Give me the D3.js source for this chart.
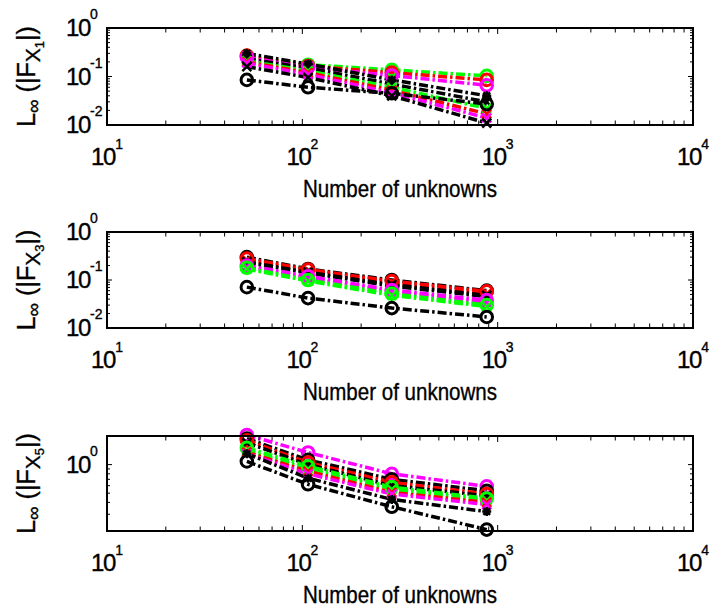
<!DOCTYPE html>
<html>
<head>
<meta charset="utf-8">
<script src="https://cdn.jsdelivr.net/npm/d3@7"></script>
<style>
  body { margin: 0; background: #fff; }
  svg { display: block; }
  text { font-family: "Liberation Sans", Arial, Helvetica, sans-serif; fill: #000; stroke: #000; stroke-width: 0.35px; }
</style>
</head>
<body>
<svg id="chart" width="710" height="612"></svg>
<script>
// Mesh sizes (number of unknowns) shared by every curve
const unknowns = [52, 107, 287, 879];
const xDecades = [1, 2, 3, 4];
const xLabel = "Number of unknowns";

// Colour keys and marker keys, one per curve, per panel
const colorMap = { g: "#00ff00", r: "#ff0000", m: "#ff00ff", k: "#000000" };

// Panel 1: L-infinity error of F_{X_1}
const fx1Colors  = ["g", "r", "m", "k", "k", "g", "r", "m", "k", "k"];
const fx1Markers = ["o", "o", "o", "*", "x", "x", "x", "x", "x", "o"];
const fx1Values = [
  [0.26, 0.175, 0.137, 0.103],
  [0.27, 0.165, 0.120, 0.085],
  [0.25, 0.155, 0.105, 0.066],
  [0.30, 0.180, 0.085, 0.040],
  [0.23, 0.150, 0.070, 0.030],
  [0.21, 0.130, 0.060, 0.022],
  [0.20, 0.120, 0.052, 0.017],
  [0.19, 0.110, 0.046, 0.014],
  [0.16, 0.095, 0.040, 0.011],
  [0.085, 0.060, 0.045, 0.027]
];
const fx1Domain = [0.01, 1];

// Panel 2: L-infinity error of F_{X_3}
const fx3Colors  = ["k", "r", "r", "k", "k", "m", "m", "g", "g", "k"];
const fx3Markers = ["o", "o", "x", "x", "*", "o", "x", "o", "x", "o"];
const fx3Values = [
  [0.30, 0.170, 0.100, 0.060],
  [0.28, 0.165, 0.095, 0.058],
  [0.26, 0.155, 0.088, 0.052],
  [0.24, 0.145, 0.080, 0.048],
  [0.23, 0.140, 0.075, 0.045],
  [0.20, 0.120, 0.062, 0.038],
  [0.19, 0.110, 0.058, 0.034],
  [0.18, 0.100, 0.052, 0.030],
  [0.17, 0.095, 0.048, 0.028],
  [0.071, 0.042, 0.026, 0.017]
];
const fx3Domain = [0.01, 1];

// Panel 3: L-infinity error of F_{X_5}
const fx5Colors  = ["m", "k", "r", "k", "g", "g", "r", "m", "k", "k"];
const fx5Markers = ["o", "o", "o", "x", "o", "x", "x", "x", "*", "o"];
const fx5Values = [
  [2.05, 1.34, 0.80, 0.59],
  [1.88, 1.12, 0.70, 0.53],
  [1.80, 1.05, 0.65, 0.49],
  [1.70, 1.00, 0.60, 0.47],
  [1.50, 0.96, 0.58, 0.44],
  [1.40, 0.90, 0.55, 0.42],
  [1.35, 0.85, 0.51, 0.40],
  [1.30, 0.80, 0.49, 0.38],
  [1.30, 0.72, 0.43, 0.32],
  [1.08, 0.62, 0.36, 0.207]
];
const fx5Domain = [0.2, 2];

const svg = d3.select("#chart");
const left = 107, right = 693;

const x = d3.scaleLog().domain([10, 10000]).range([left, right]);

function logTicks(domain) {
  const out = [];
  const lo = Math.floor(Math.log10(domain[0])), hi = Math.ceil(Math.log10(domain[1]));
  for (let e = lo; e <= hi; e++) {
    for (let m = 1; m <= 9; m++) {
      const v = m * Math.pow(10, e);
      if (v >= domain[0] * 0.9999 && v <= domain[1] * 1.0001) out.push({ v, major: m === 1 });
    }
  }
  return out;
}

function markerPath(type, s) {
  if (type === "x") return `M${-s},${-s}L${s},${s}M${-s},${s}L${s},${-s}`;
  if (type === "*") {
    const d = s * 0.75;
    return `M${-s},0L${s},0M0,${-s}L0,${s}M${-d},${-d}L${d},${d}M${-d},${d}L${d},${-d}`;
  }
  return null;
}

function drawPanel(cfg) {
  const { top, bottom, domain, values, colors, markers, sub } = cfg;
  const y = d3.scaleLog().domain(domain).range([bottom, top]);
  const g = svg.append("g");

  // Curves: thick dash-dot lines
  const line = d3.line().x((d, i) => x(unknowns[i])).y(d => y(d));
  values.forEach((vals, si) => {
    g.append("path")
      .datum(vals)
      .attr("d", line)
      .attr("fill", "none")
      .attr("stroke", colorMap[colors[si]])
      .attr("stroke-width", 3.5)
      .attr("stroke-dasharray", "9,3,2.5,3");
  });
  // Markers
  values.forEach((vals, si) => {
    const c = colorMap[colors[si]];
    vals.forEach((v, i) => {
      const cx = x(unknowns[i]), cy = y(v);
      if (markers[si] === "o") {
        g.append("circle").attr("cx", cx).attr("cy", cy).attr("r", 5.8)
          .attr("fill", "none").attr("stroke", c).attr("stroke-width", 3);
      } else {
        g.append("path").attr("d", markerPath(markers[si], 4.5))
          .attr("transform", `translate(${cx},${cy})`)
          .attr("fill", "none").attr("stroke", c).attr("stroke-width", 2.5);
      }
    });
  });

  // Axes box
  g.append("rect").attr("x", left).attr("y", top)
    .attr("width", right - left).attr("height", bottom - top)
    .attr("fill", "none").attr("stroke", "#000").attr("stroke-width", 2);

  // X ticks (inward, top and bottom)
  logTicks([10, 10000]).forEach(t => {
    const px = x(t.v), len = t.major ? 6 : 4.5;
    g.append("line").attr("x1", px).attr("x2", px).attr("y1", bottom).attr("y2", bottom - len)
      .attr("stroke", "#000").attr("stroke-width", 1);
    g.append("line").attr("x1", px).attr("x2", px).attr("y1", top).attr("y2", top + len)
      .attr("stroke", "#000").attr("stroke-width", 1);
  });
  // Y ticks (inward, left and right)
  logTicks(domain).forEach(t => {
    const py = y(t.v), len = t.major ? 5 : 3;
    g.append("line").attr("x1", left).attr("x2", left + len).attr("y1", py).attr("y2", py)
      .attr("stroke", "#000").attr("stroke-width", 1);
    g.append("line").attr("x1", right).attr("x2", right - len).attr("y1", py).attr("y2", py)
      .attr("stroke", "#000").attr("stroke-width", 1);
  });

  // X tick labels 10^k
  xDecades.forEach(e => {
    const t = g.append("text").attr("x", x(Math.pow(10, e))).attr("y", bottom + 39.5)
      .attr("text-anchor", "middle").attr("font-size", 24).attr("letter-spacing", -1.3);
    t.append("tspan").text("10");
    t.append("tspan").attr("dy", -16).attr("font-size", 14).attr("letter-spacing", 0).text(String(e));
  });

  // Y tick labels 10^k
  logTicks(domain).filter(t => t.major).forEach(t => {
    const e = Math.round(Math.log10(t.v));
    const tx = g.append("text").attr("x", 66).attr("y", y(t.v) + 8)
      .attr("font-size", 24).attr("letter-spacing", -1.3);
    tx.append("tspan").text("10");
    tx.append("tspan").attr("dy", -17).attr("font-size", 14).attr("letter-spacing", 0)
      .text(e < 0 ? "-" + Math.abs(e) : String(e));
  });

  // X axis title
  g.append("text").attr("x", (left + right) / 2).attr("y", bottom + 71.5)
    .attr("text-anchor", "middle").attr("font-size", 24)
    .attr("textLength", 194).attr("lengthAdjust", "spacingAndGlyphs")
    .text(xLabel);

  // Y axis title: L_inf (|F_{X_k}|)
  const cy = (top + bottom) / 2;
  const yl = g.append("text").attr("transform", `translate(35,${cy}) rotate(-90)`)
    .attr("text-anchor", "middle").attr("font-size", 25);
  yl.append("tspan").text("L");
  yl.append("tspan").attr("dy", 5).attr("font-size", 19).text("\u221E");
  yl.append("tspan").attr("dy", -5).text(" (|F");
  yl.append("tspan").attr("dy", 5).attr("font-size", 21).text("X");
  yl.append("tspan").attr("dy", 4).attr("font-size", 13).text(sub);
  yl.append("tspan").attr("dy", -9).text("|)");
}

drawPanel({ top: 28, bottom: 125, domain: fx1Domain, values: fx1Values, colors: fx1Colors, markers: fx1Markers, sub: "1" });
drawPanel({ top: 232, bottom: 328, domain: fx3Domain, values: fx3Values, colors: fx3Colors, markers: fx3Markers, sub: "3" });
drawPanel({ top: 436, bottom: 531, domain: fx5Domain, values: fx5Values, colors: fx5Colors, markers: fx5Markers, sub: "5" });
</script>
</body>
</html>
